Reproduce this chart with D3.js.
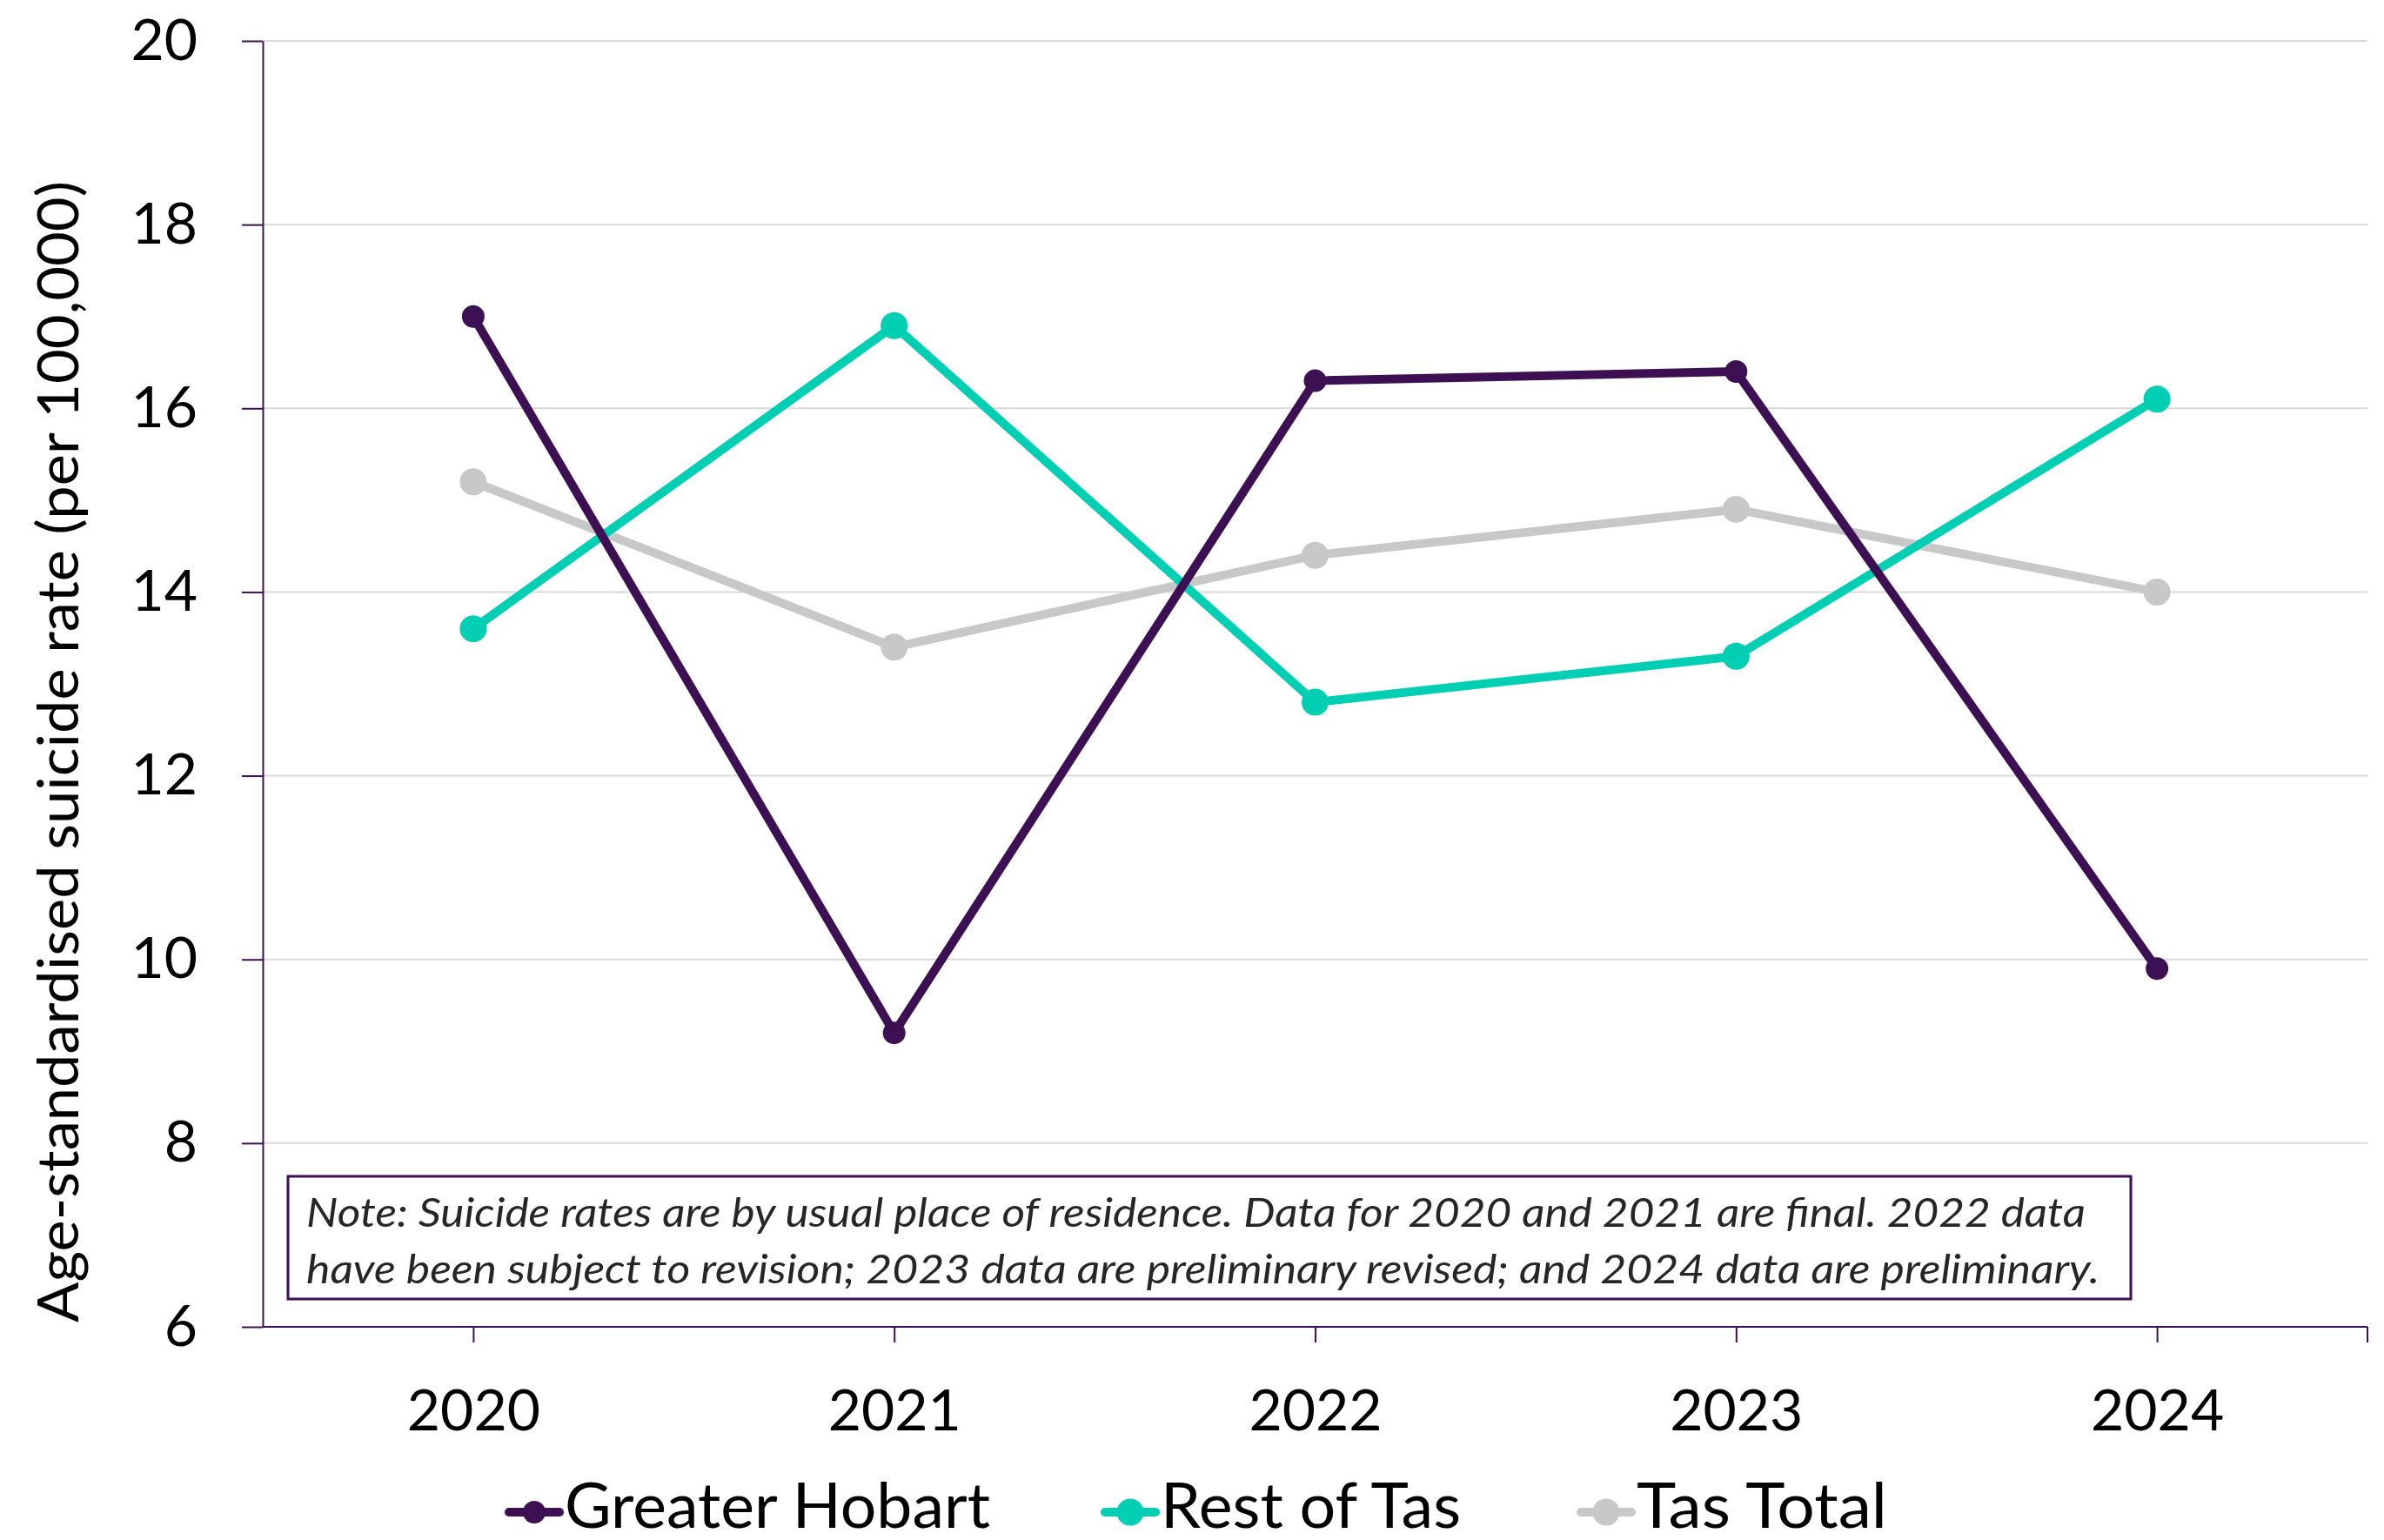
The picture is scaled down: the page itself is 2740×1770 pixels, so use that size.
<!DOCTYPE html>
<html><head><meta charset="utf-8">
<script src="https://cdn.jsdelivr.net/npm/d3@7/dist/d3.min.js"></script>
<style>body{margin:0;background:#fff}svg{display:block}</style>
</head><body>
<script>
// ---- data ----
const years = ["2020", "2021", "2022", "2023", "2024"];
const greaterHobart = [17.0, 9.2, 16.3, 16.4, 9.9];
const restOfTas = [13.6, 16.9, 12.8, 13.3, 16.1];
const tasTotal = [15.2, 13.4, 14.4, 14.9, 14.0];
const seriesNames = ["Greater Hobart", "Rest of Tas", "Tas Total"];
const yTicks = [6, 8, 10, 12, 14, 16, 18, 20];
const yTitle = "Age-standardised suicide rate (per 100,000)";
const noteLines = [
  "Note: Suicide rates are by usual place of residence. Data for 2020 and 2021 are final. 2022 data",
  "have been subject to revision; 2023 data are preliminary revised; and 2024 data are preliminary."
];

// ---- styles / layout ----
const W = 2740, H = 1770;
const plot = {left: 302, right: 2721, top: 47, bottom: 1525};
const FONT = "Lato, 'Open Sans', sans-serif";
const PURPLE = "#3C1053", TEAL = "#00CFB4", GREY = "#C8C8C8";
const styles = [
  {color: PURPLE, r: 13, w: 10},
  {color: TEAL, r: 15.5, w: 10},
  {color: GREY, r: 15.5, w: 10}
];
const seriesValues = [greaterHobart, restOfTas, tasTotal];

const svg = d3.select("body").append("svg").attr("width", W).attr("height", H)
  .style("font-family", FONT);

const x = d3.scaleBand().domain(years).range([plot.left, plot.right]);
const xc = d => x(d) + x.bandwidth() / 2;
const y = d3.scaleLinear().domain([6, 20]).range([plot.bottom, plot.top]);

// gridlines
svg.append("g").selectAll("line").data(yTicks.filter(t => t > 6)).join("line")
  .attr("x1", plot.left).attr("x2", plot.right)
  .attr("y1", d => y(d)).attr("y2", d => y(d))
  .attr("stroke", "#D9D9D9").attr("stroke-width", 2);

// y axis
const yAxis = svg.append("g").attr("transform", `translate(${plot.left},0)`)
  .call(d3.axisLeft(y).tickValues(yTicks).tickSize(24).tickSizeOuter(0).tickPadding(51).tickFormat(d3.format("d")));
yAxis.select(".domain").attr("stroke", PURPLE).attr("stroke-width", 2);
yAxis.selectAll(".tick line").attr("stroke", PURPLE).attr("stroke-width", 2);
yAxis.selectAll(".tick text").attr("font-size", 66).attr("font-family", FONT).attr("fill", "#000");

// x axis (ticks at category centres)
const xp = d3.scalePoint().domain(years).range([xc(years[0]), xc(years[years.length - 1])]);
const xAxis = svg.append("g").attr("transform", `translate(0,${plot.bottom})`)
  .call(d3.axisBottom(xp).tickSize(18).tickSizeOuter(0).tickPadding(54));
xAxis.select(".domain").remove();
xAxis.append("line").attr("x1", plot.left).attr("x2", plot.right).attr("y1", 0).attr("y2", 0)
  .attr("stroke", PURPLE).attr("stroke-width", 2);
xAxis.append("line").attr("x1", plot.right).attr("x2", plot.right).attr("y1", 0).attr("y2", 18)
  .attr("stroke", PURPLE).attr("stroke-width", 2);
xAxis.selectAll(".tick line").attr("stroke", PURPLE).attr("stroke-width", 2);
xAxis.selectAll(".tick text").attr("font-size", 66).attr("font-family", FONT).attr("fill", "#000");

// y axis title
svg.append("text")
  .attr("transform", `translate(90,864) rotate(-90)`)
  .attr("text-anchor", "middle")
  .attr("font-size", 66).attr("fill", "#000")
  .attr("textLength", 1312).attr("lengthAdjust", "spacingAndGlyphs")
  .text(yTitle);

// series lines and markers (Greater Hobart on top)
const line = d3.line().x((d, i) => xc(years[i])).y(d => y(d));
const order = [2, 1, 0];
order.forEach(si => {
  const g = svg.append("g");
  g.append("path").datum(seriesValues[si]).attr("d", line)
    .attr("fill", "none").attr("stroke", styles[si].color)
    .attr("stroke-width", styles[si].w).attr("stroke-linejoin", "round").attr("stroke-linecap", "round");
  g.selectAll("circle").data(seriesValues[si]).join("circle")
    .attr("cx", (d, i) => xc(years[i])).attr("cy", d => y(d))
    .attr("r", styles[si].r).attr("fill", styles[si].color);
});

// note box
const note = svg.append("g");
note.append("rect").attr("x", 331).attr("y", 1352).attr("width", 2118).attr("height", 141)
  .attr("fill", "#fff").attr("stroke", PURPLE).attr("stroke-width", 3);
const noteLen = [2045, 2061];
note.selectAll("text").data(noteLines).join("text")
  .attr("x", 352).attr("y", (d, i) => 1410 + i * 65)
  .attr("font-size", 46).attr("font-style", "italic").attr("fill", "#262626")
  .attr("textLength", (d, i) => noteLen[i]).attr("lengthAdjust", "spacingAndGlyphs")
  .text(d => d);

// legend
const legendX = [585, 1270, 1817];
const legendTextLen = [489, 345, 288];
const legendY = 1738;
const legend = svg.append("g");
seriesNames.forEach((name, i) => {
  const g = legend.append("g").attr("transform", `translate(${legendX[i]},${legendY})`);
  g.append("line").attr("x1", 0).attr("x2", 58).attr("y1", 0).attr("y2", 0)
    .attr("stroke", styles[i].color).attr("stroke-width", 10).attr("stroke-linecap", "round");
  g.append("circle").attr("cx", 29).attr("cy", 0).attr("r", styles[i].r).attr("fill", styles[i].color);
  g.append("text").attr("x", 64).attr("y", 18).attr("font-size", 71).attr("fill", "#000")
    .attr("textLength", legendTextLen[i]).attr("lengthAdjust", "spacingAndGlyphs")
    .text(name);
});
</script>
</body></html>
